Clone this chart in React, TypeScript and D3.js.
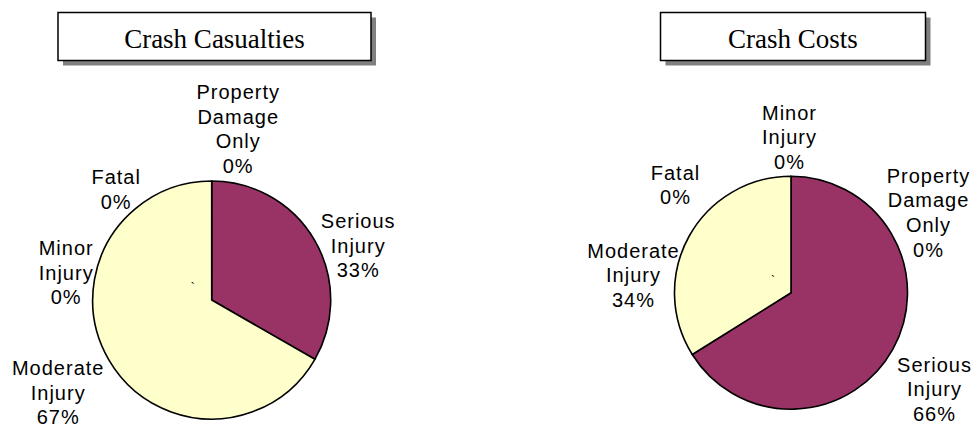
import { useEffect, useRef } from 'react'
import * as d3 from 'd3'

// left pie: crash casualties, clockwise from 12 o'clock
const casualtyCategories = ['Property Damage Only', 'Serious Injury', 'Moderate Injury', 'Minor Injury', 'Fatal']
const casualtyShares = [0, 33.3, 66.7, 0, 0]

// right pie: crash costs
const costCategories = ['Minor Injury', 'Property Damage Only', 'Serious Injury', 'Moderate Injury', 'Fatal']
const costShares = [0, 0, 66.1, 33.9, 0]

const chartTitles = ['Crash Casualties', 'Crash Costs']

const sliceColors: Record<string, string> = {
  'Serious Injury': '#993366',
  'Moderate Injury': '#ffffcc',
  'Minor Injury': '#ffffcc',
  'Fatal': '#ffffcc',
  'Property Damage Only': '#ffffcc',
}

// label anchors (centre x, first baseline) relative to pie centre, as placed in the original
const casualtyLabelOffsets: Record<string, [number, number]> = {
  'Property Damage Only': [26, -201],
  'Serious Injury': [146, -72],
  'Moderate Injury': [-154, 75],
  'Minor Injury': [-146, -45],
  'Fatal': [-96, -116],
}
const costLabelOffsets: Record<string, [number, number]> = {
  'Minor Injury': [-2, -173],
  'Property Damage Only': [137, -110],
  'Serious Injury': [143, 79],
  'Moderate Injury': [-158, -35],
  'Fatal': [-116, -113],
}

interface PanelSpec {
  title: string
  categories: string[]
  shares: number[]
  offsets: Record<string, [number, number]>
  box: { x: number; y: number; w: number; h: number }
  cx: number
  cy: number
  r: number
  tick: [number, number]
}

const panels: PanelSpec[] = [
  {
    title: chartTitles[0],
    categories: casualtyCategories,
    shares: casualtyShares,
    offsets: casualtyLabelOffsets,
    box: { x: 58, y: 12.5, w: 313, h: 48 },
    cx: 211.7, cy: 300, r: 119,
    tick: [-19, -8],
  },
  {
    title: chartTitles[1],
    categories: costCategories,
    shares: costShares,
    offsets: costLabelOffsets,
    box: { x: 660.5, y: 12.5, w: 265, h: 48 },
    cx: 791, cy: 292.7, r: 116.5,
    tick: [-18, -8],
  },
]

const W = 975
const H = 428
const LINE_H = 24.6

export default function App() {
  const svgRef = useRef<SVGSVGElement>(null)

  useEffect(() => {
    if (!svgRef.current) return
    const svg = d3.select(svgRef.current)
    svg.selectAll('*').remove()

    panels.forEach(p => {
      // title box with drop shadow
      const tb = svg.append('g')
      tb.append('rect')
        .attr('x', p.box.x + 5).attr('y', p.box.y + 5)
        .attr('width', p.box.w).attr('height', p.box.h)
        .attr('fill', '#808080')
      tb.append('rect')
        .attr('x', p.box.x).attr('y', p.box.y)
        .attr('width', p.box.w).attr('height', p.box.h)
        .attr('fill', '#fff').attr('stroke', '#000').attr('stroke-width', 1.5)
      tb.append('text')
        .attr('x', p.box.x + p.box.w / 2).attr('y', p.box.y + 35.5)
        .attr('text-anchor', 'middle')
        .style('font-family', '"Liberation Serif", "Times New Roman", serif')
        .style('font-size', '27px')
        .attr('fill', '#000')
        .text(p.title)

      const data = p.categories.map((c, i) => ({ name: c, value: p.shares[i] }))
      const total = d3.sum(data, d => d.value)
      const pct = d3.format('.0%')

      const pie = d3.pie<{ name: string; value: number }>()
        .sort(null)
        .value(d => d.value)
        .startAngle(0)
        .endAngle(2 * Math.PI)
      const arc = d3.arc<d3.PieArcDatum<{ name: string; value: number }>>()
        .innerRadius(0)
        .outerRadius(p.r)

      const g = svg.append('g').attr('transform', `translate(${p.cx},${p.cy})`)

      g.selectAll('path')
        .data(pie(data).filter(d => d.data.value > 0))
        .join('path')
        .attr('d', arc)
        .attr('fill', d => sliceColors[d.data.name])
        .attr('stroke', '#000')
        .attr('stroke-width', 1.6)
        .attr('stroke-linejoin', 'round')

      // stray mark near the centre, present in the source
      g.append('text')
        .attr('x', p.tick[0]).attr('y', p.tick[1])
        .attr('text-anchor', 'middle')
        .style('font-family', '"Liberation Sans", Arial, sans-serif')
        .style('font-size', '12px')
        .text('`')

      data.forEach(d => {
        const [dx, dy] = p.offsets[d.name]
        const lines = [...d.name.split(' '), pct(d.value / total)]
        const t = g.append('text')
          .attr('text-anchor', 'middle')
          .style('font-family', '"Liberation Sans", Arial, sans-serif')
          .style('font-size', '20px')
          .style('letter-spacing', '1px')
          .attr('fill', '#000')
        lines.forEach((ln, i) => {
          t.append('tspan')
            .attr('x', dx + 0.5)
            .attr('y', dy + i * LINE_H)
            .text(ln)
        })
      })
    })
  }, [])

  return (
    <svg
      ref={svgRef}
      width={W}
      height={H}
      style={{ position: 'absolute', left: 0, top: 0, background: '#fff' }}
    />
  )
}
